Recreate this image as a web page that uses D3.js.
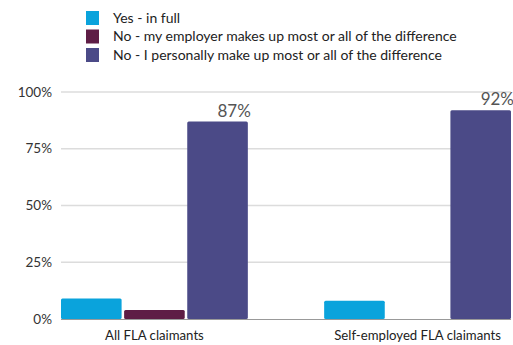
<!DOCTYPE html>
<html>
<head>
<meta charset="utf-8">
<script src="https://cdn.jsdelivr.net/npm/d3@7"></script>
<style>
  body { margin: 0; background: #fff; }
  svg { font-family: Lato, "Open Sans", sans-serif; }
</style>
</head>
<body>
<svg width="513" height="345"></svg>
<script>
var categories = ["All FLA claimants", "Self-employed FLA claimants"];
var seriesNames = [
	"Yes - in full",
	"No - my employer makes up most or all of the difference",
	"No - I personally make up most or all of the difference"
];
var yesFull = [9, 8];
var employerPays = [4, null];
var personallyPays = [87, 92];
var yTicks = [0, 25, 50, 75, 100];
var colors = ["#0aa3dc", "#5e1d45", "#4b4a87"];

var series = [yesFull, employerPays, personallyPays];

var svg = d3.select("svg");
var margin = { top: 92, left: 61, right: 2, bottom: 26 };
var width = 513 - margin.left - margin.right;
var height = 345 - margin.top - margin.bottom;

var g = svg.append("g").attr("transform", "translate(" + margin.left + "," + margin.top + ")");

var x0 = d3.scaleBand().domain(categories).range([0, width]).paddingInner(0.29).paddingOuter(0);
var x1 = d3.scaleBand().domain(d3.range(series.length)).range([0, x0.bandwidth()]).paddingInner(0.04);
var y = d3.scaleLinear().domain([0, 100]).range([height, 0]);

// gridlines
g.selectAll(".grid")
	.data(yTicks.filter(function (d) { return d > 0; }))
	.enter()
	.append("line")
	.attr("x1", 0)
	.attr("x2", width)
	.attr("y1", function (d) { return y(d); })
	.attr("y2", function (d) { return y(d); })
	.attr("stroke", "#dcdcdc")
	.attr("stroke-width", 1.5);

// y labels
g.selectAll(".ytick")
	.data(yTicks)
	.enter()
	.append("text")
	.attr("x", -9)
	.attr("y", function (d) { return y(d); })
	.attr("dy", "0.35em")
	.attr("text-anchor", "end")
	.attr("font-size", 13.5)
	.attr("fill", "#333")
	.text(function (d) { return d + "%"; });

// bars
var groups = g.selectAll(".group")
	.data(categories)
	.enter()
	.append("g")
	.attr("transform", function (d) { return "translate(" + x0(d) + ",0)"; });

groups.selectAll("rect")
	.data(function (d, i) {
		return series.map(function (s, j) { return { s: j, v: s[i] }; })
			.filter(function (e) { return e.v != null; });
	})
	.enter()
	.append("rect")
	.attr("x", function (d) { return x1(d.s); })
	.attr("y", function (d) { return y(d.v); })
	.attr("width", x1.bandwidth())
	.attr("height", function (d) { return height - y(d.v); })
	.attr("rx", 1.5)
	.attr("fill", function (d) { return colors[d.s]; });

// value labels on the big bars
groups.append("text")
	.attr("x", x1(2) + x1.bandwidth() + 3)
	.attr("y", function (d, i) { return y(personallyPays[i]) - 5; })
	.attr("text-anchor", "end")
	.attr("font-size", 17)
	.attr("fill", "#555")
	.text(function (d, i) { return personallyPays[i] + "%"; });

// baseline
g.append("line")
	.attr("x1", 0)
	.attr("x2", width)
	.attr("y1", height + 0.5)
	.attr("y2", height + 0.5)
	.attr("stroke", "#999")
	.attr("stroke-width", 1);

// category labels
g.selectAll(".cat")
	.data(categories)
	.enter()
	.append("text")
	.attr("x", function (d) { return x0(d) + x0.bandwidth() / 2; })
	.attr("y", height + 21)
	.attr("text-anchor", "middle")
	.attr("font-size", 13.2)
	.attr("fill", "#222")
	.text(function (d) { return d; });

// legend
var legend = svg.selectAll(".legend")
	.data(seriesNames)
	.enter()
	.append("g")
	.attr("transform", function (d, i) { return "translate(86," + (11 + i * 18.5) + ")"; });

legend.append("rect")
	.attr("width", 13)
	.attr("height", 14)
	.attr("fill", function (d, i) { return colors[i]; });

legend.append("text")
	.attr("x", 27)
	.attr("y", 7)
	.attr("dy", "0.35em")
	.attr("font-size", 14)
	.attr("fill", "#222")
	.text(function (d) { return d; });
</script>
</body>
</html>
